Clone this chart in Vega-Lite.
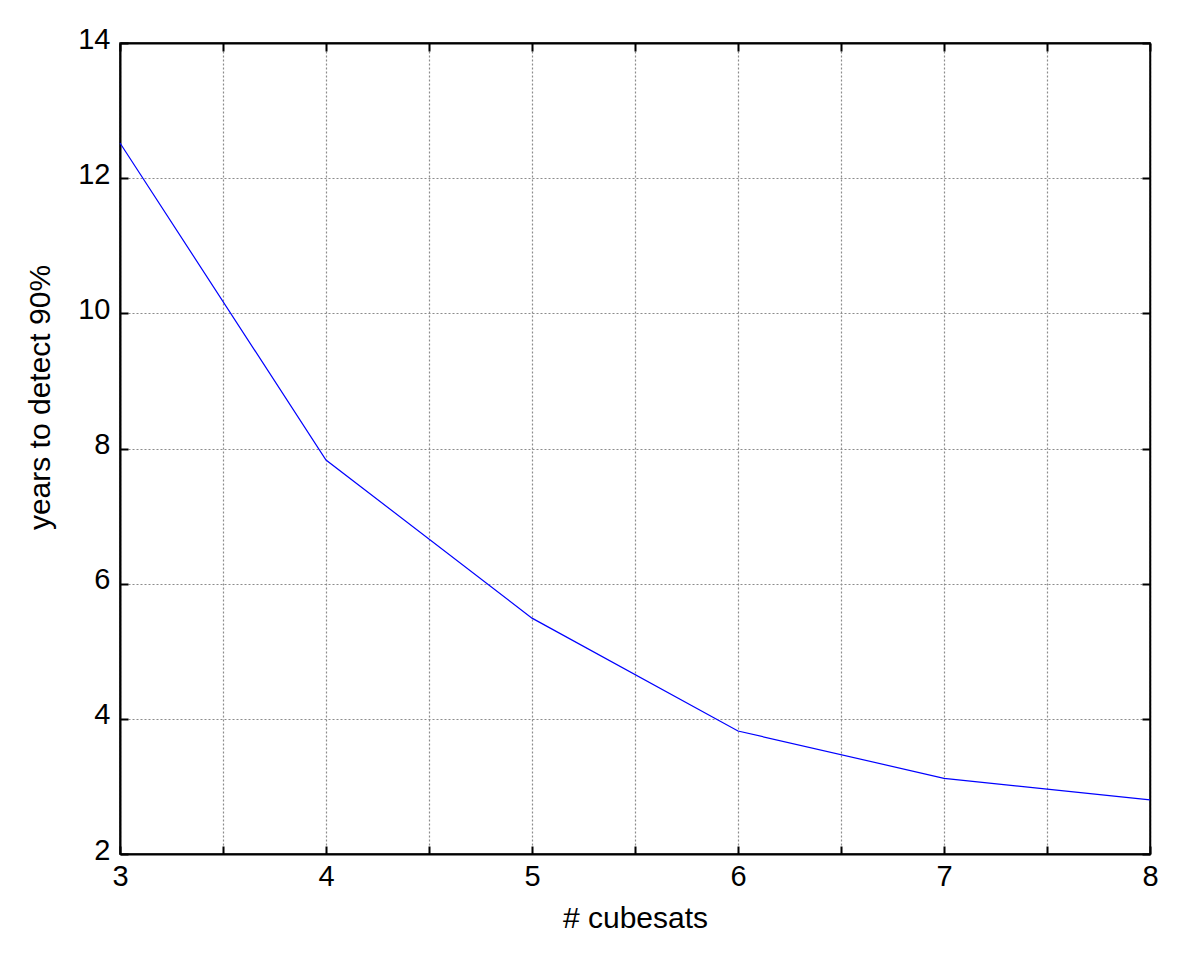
{
  "$schema": "https://vega.github.io/schema/vega-lite/v6.json",
  "width": 1030,
  "height": 811,
  "autosize": {"type": "none"},
  "padding": {"left": 120, "top": 43, "right": 50, "bottom": 103},
  "background": "white",
  "config": {
    "view": {"stroke": "black", "strokeWidth": 1.5},
    "font": "Liberation Sans",
    "axis": {
      "labelFont": "Liberation Sans",
      "titleFont": "Liberation Sans",
      "labelColor": "black",
      "titleColor": "black",
      "titleFontWeight": "normal",
      "domainColor": "black",
      "tickColor": "black"
    }
  },
  "data": {
    "values": [
      {"cubesats": 3, "years": 12.52},
      {"cubesats": 4, "years": 7.83},
      {"cubesats": 5, "years": 5.49},
      {"cubesats": 6, "years": 3.82},
      {"cubesats": 7, "years": 3.12},
      {"cubesats": 8, "years": 2.8}
    ]
  },
  "layer": [
    {
      "mark": {"type": "line", "color": "#0000ff", "strokeWidth": 1.2},
      "encoding": {
        "x": {
          "field": "cubesats",
          "type": "quantitative",
          "scale": {"domain": [3, 8], "nice": false, "zero": false},
          "axis": {
            "orient": "bottom",
            "title": "# cubesats",
            "titleFontSize": 30,
            "titlePadding": 12,
            "labelFontSize": 29,
            "labelPadding": 16,
            "tickSize": -8,
            "tickWidth": 2,
            "domainWidth": 2,
            "values": [3, 3.5, 4, 4.5, 5, 5.5, 6, 6.5, 7, 7.5, 8],
            "labelExpr": "datum.value % 1 == 0 ? format(datum.value, 'd') : ''",
            "grid": true,
            "gridColor": "#8c8c8c",
            "gridDash": [2, 2],
            "gridWidth": 1.2,
            "labelFlush": false
          }
        },
        "y": {
          "field": "years",
          "type": "quantitative",
          "scale": {"domain": [2, 14], "nice": false, "zero": false},
          "axis": {
            "orient": "left",
            "title": "years to detect 90%",
            "titleFontSize": 30,
            "titlePadding": 22,
            "titleY": 354,
            "labelFontSize": 29,
            "labelPadding": 18,
            "labelOffset": -4,
            "format": "d",
            "tickSize": -8,
            "tickWidth": 2,
            "domainWidth": 2,
            "values": [2, 4, 6, 8, 10, 12, 14],
            "grid": true,
            "gridColor": "#8c8c8c",
            "gridDash": [2, 2],
            "gridWidth": 1.2,
            "labelFlush": false
          }
        }
      }
    },
    {
      "mark": {"type": "line", "opacity": 0},
      "encoding": {
        "x": {
          "field": "cubesats",
          "type": "quantitative",
          "axis": {
            "orient": "top",
            "title": null,
            "labels": false,
            "grid": false,
            "tickSize": -8,
            "tickWidth": 2,
            "domainWidth": 2,
            "values": [3, 3.5, 4, 4.5, 5, 5.5, 6, 6.5, 7, 7.5, 8]
          }
        },
        "y": {
          "field": "years",
          "type": "quantitative",
          "axis": {
            "orient": "right",
            "title": null,
            "labels": false,
            "grid": false,
            "tickSize": -8,
            "tickWidth": 2,
            "domainWidth": 1.5,
            "values": [2, 4, 6, 8, 10, 12, 14]
          }
        }
      }
    }
  ],
  "resolve": {"axis": {"x": "independent", "y": "independent"}}
}
